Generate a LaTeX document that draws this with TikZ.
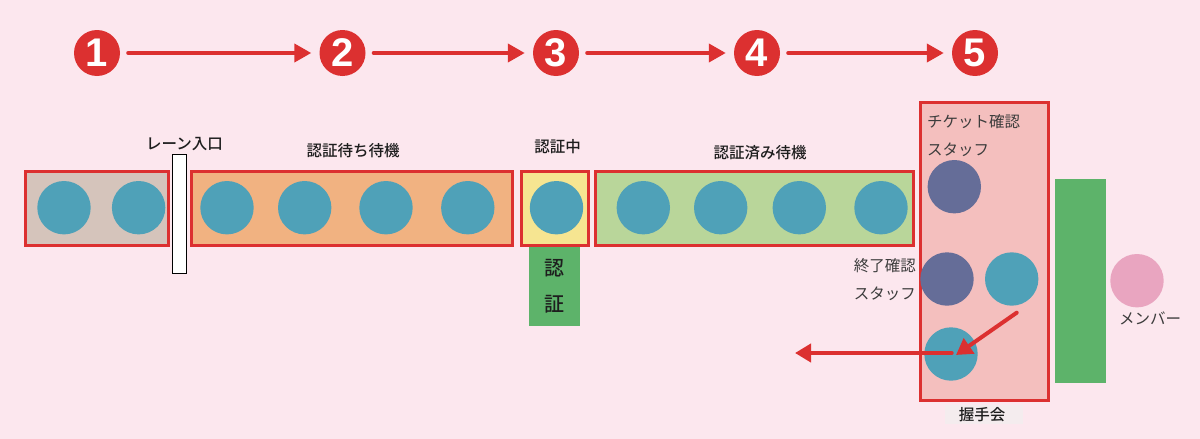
\documentclass[tikz,border=0pt]{standalone}
\usepackage{fontspec}
\newfontfamily\jp{Noto Sans CJK JP}
\newfontfamily\jpm{Noto Sans CJK JP Medium}
\newfontfamily\numfont{Liberation Sans}
\usetikzlibrary{arrows.meta}
\definecolor{bgpink}{HTML}{FCE7EE}
\definecolor{redc}{HTML}{DC3030}
\definecolor{teal}{HTML}{4FA1B8}
\definecolor{navyc}{HTML}{656D98}
\definecolor{grayfill}{HTML}{D5C4BB}
\definecolor{orangefill}{HTML}{F1B281}
\definecolor{yellowfill}{HTML}{F6E591}
\definecolor{lgreen}{HTML}{B9D69A}
\definecolor{dgreen}{HTML}{5DB36A}
\definecolor{salmon}{HTML}{F4BFBE}
\definecolor{pinkc}{HTML}{E9A5C0}
\definecolor{txt}{HTML}{1E1E1E}
\definecolor{txtg}{HTML}{3C3C3C}
\definecolor{labbg}{HTML}{F4ECEE}
\tikzset{
  numc/.style={circle, fill=redc, minimum size=46pt, inner sep=0pt, text=white, font=\numfont\bfseries\fontsize{40}{40}\selectfont},
  steparrow/.style={draw=redc, line width=4pt, line cap=round, -{Triangle[length=17pt,width=18pt]}, shorten <=8pt, shorten >=8pt},
  zone/.style={draw=redc, line width=3pt, inner sep=0pt},
  person/.style={circle, fill=teal, minimum size=53.4pt, inner sep=0pt},
  staff/.style={circle, fill=navyc, minimum size=53.4pt, inner sep=0pt},
  lab/.style={font=\jpm\fontsize{15.5}{15.5}\selectfont, text=txt, inner sep=0pt},
  labg/.style={font=\jp\fontsize{15.5}{15.5}\selectfont, text=txtg, inner sep=0pt},
  flow/.style={draw=redc, line width=4pt, line cap=round, -{Triangle[length=16pt,width=18pt]}},
}
\begin{document}
\begin{tikzpicture}[x=1pt,y=-1pt]
\useasboundingbox (0,0) rectangle (1200,439);
\fill[bgpink] (0,0) rectangle (1200,439);

% step circles
\node[numc] (n1) at (97,53) {1};
\node[numc] (n2) at (342.5,53) {2};
\node[numc] (n3) at (556,53) {3};
\node[numc] (n4) at (757,53) {4};
\node[numc] (n5) at (975,53) {5};
\draw[steparrow] (n1) -- (n2);
\draw[steparrow] (n2) -- (n3);
\draw[steparrow] (n3) -- (n4);
\draw[steparrow] (n4) -- (n5);

% auth green
\node[fill=dgreen, minimum width=51pt, minimum height=79pt, inner sep=0pt] (auth) at (554.5,286.5) {};
\node[lab, font=\jpm\fontsize{20}{20}\selectfont] (authA) at (554.5,268.5) {認};
\node[lab, font=\jpm\fontsize{20}{20}\selectfont] (authB) at (554.5,304.5) {証};

% zones
\node[zone, fill=grayfill, minimum width=143pt, minimum height=74pt] (z1) at (97,208.5) {};
\node[zone, fill=orangefill, minimum width=321pt, minimum height=74pt] (z2) at (352,208.5) {};
\node[zone, fill=yellowfill, minimum width=67pt, minimum height=74pt] (z3) at (555,208.5) {};
\node[zone, fill=lgreen, minimum width=318pt, minimum height=74pt] (z4) at (754.5,208.5) {};
\node[draw=black, fill=white, line width=1.2pt, minimum width=14pt, minimum height=119pt, inner sep=0pt] (gate) at (179.5,214) {};

% people in queues
\node[person] (p1) at (64,207.7) {};
\node[person] (p2) at (138.6,207.7) {};
\node[person] (p3) at (227,207.7) {};
\node[person] (p4) at (304.7,207.7) {};
\node[person] (p5) at (386,207.7) {};
\node[person] (p6) at (467.8,207.7) {};
\node[person] (p7) at (556.5,207.7) {};
\node[person] (p8) at (643.3,207.7) {};
\node[person] (p9) at (720.7,207.7) {};
\node[person] (p10) at (799.3,207.7) {};
\node[person] (p11) at (881,207.7) {};

% labels
\node[lab] (lgate) at (184.6,144) {レーン入口};
\node[lab] (lz2) at (353,151) {認証待ち待機};
\node[lab] (lz3) at (557.7,146.7) {認証中};
\node[lab] (lz4) at (760,153) {認証済み待機};

% handshake area
\node[zone, fill=salmon, minimum width=128pt, minimum height=298pt] (hs) at (984.5,251.5) {};
\node[labg, anchor=west] (tk1) at (927,122) {チケット確認};
\node[labg, anchor=west] (tk2) at (927,149.5) {スタッフ};
\node[staff] (s1) at (954.3,186.7) {};
\node[staff] (s2) at (947,279) {};
\node[person] (q1) at (1011.7,279) {};
\node[person] (q2) at (951,354) {};
\node[labg, anchor=east] (end1) at (916,266) {終了確認};
\node[labg, anchor=east] (end2) at (916,293.5) {スタッフ};
\node[fill=dgreen, minimum width=51pt, minimum height=204pt, inner sep=0pt] (bar) at (1080.5,281) {};
\node[circle, fill=pinkc, minimum size=53.4pt, inner sep=0pt] (mem) at (1137,280.7) {};
\node[labg] (lmem) at (1150,318) {メンバー};
\node[fill=labbg, minimum width=78pt, minimum height=19pt, inner sep=0pt] (hslabbg) at (984,414.5) {};
\node[lab] (lhs) at (982,415) {握手会};

% flow arrows
\coordinate (fa) at (1016.7,312.7);
\coordinate (fb) at (956,355);
\coordinate (fc) at (951.7,353);
\coordinate (fd) at (795,353);
\draw[flow] (fc) -- (fd);
\draw[flow] (fa) -- (fb);
\end{tikzpicture}
\end{document}
